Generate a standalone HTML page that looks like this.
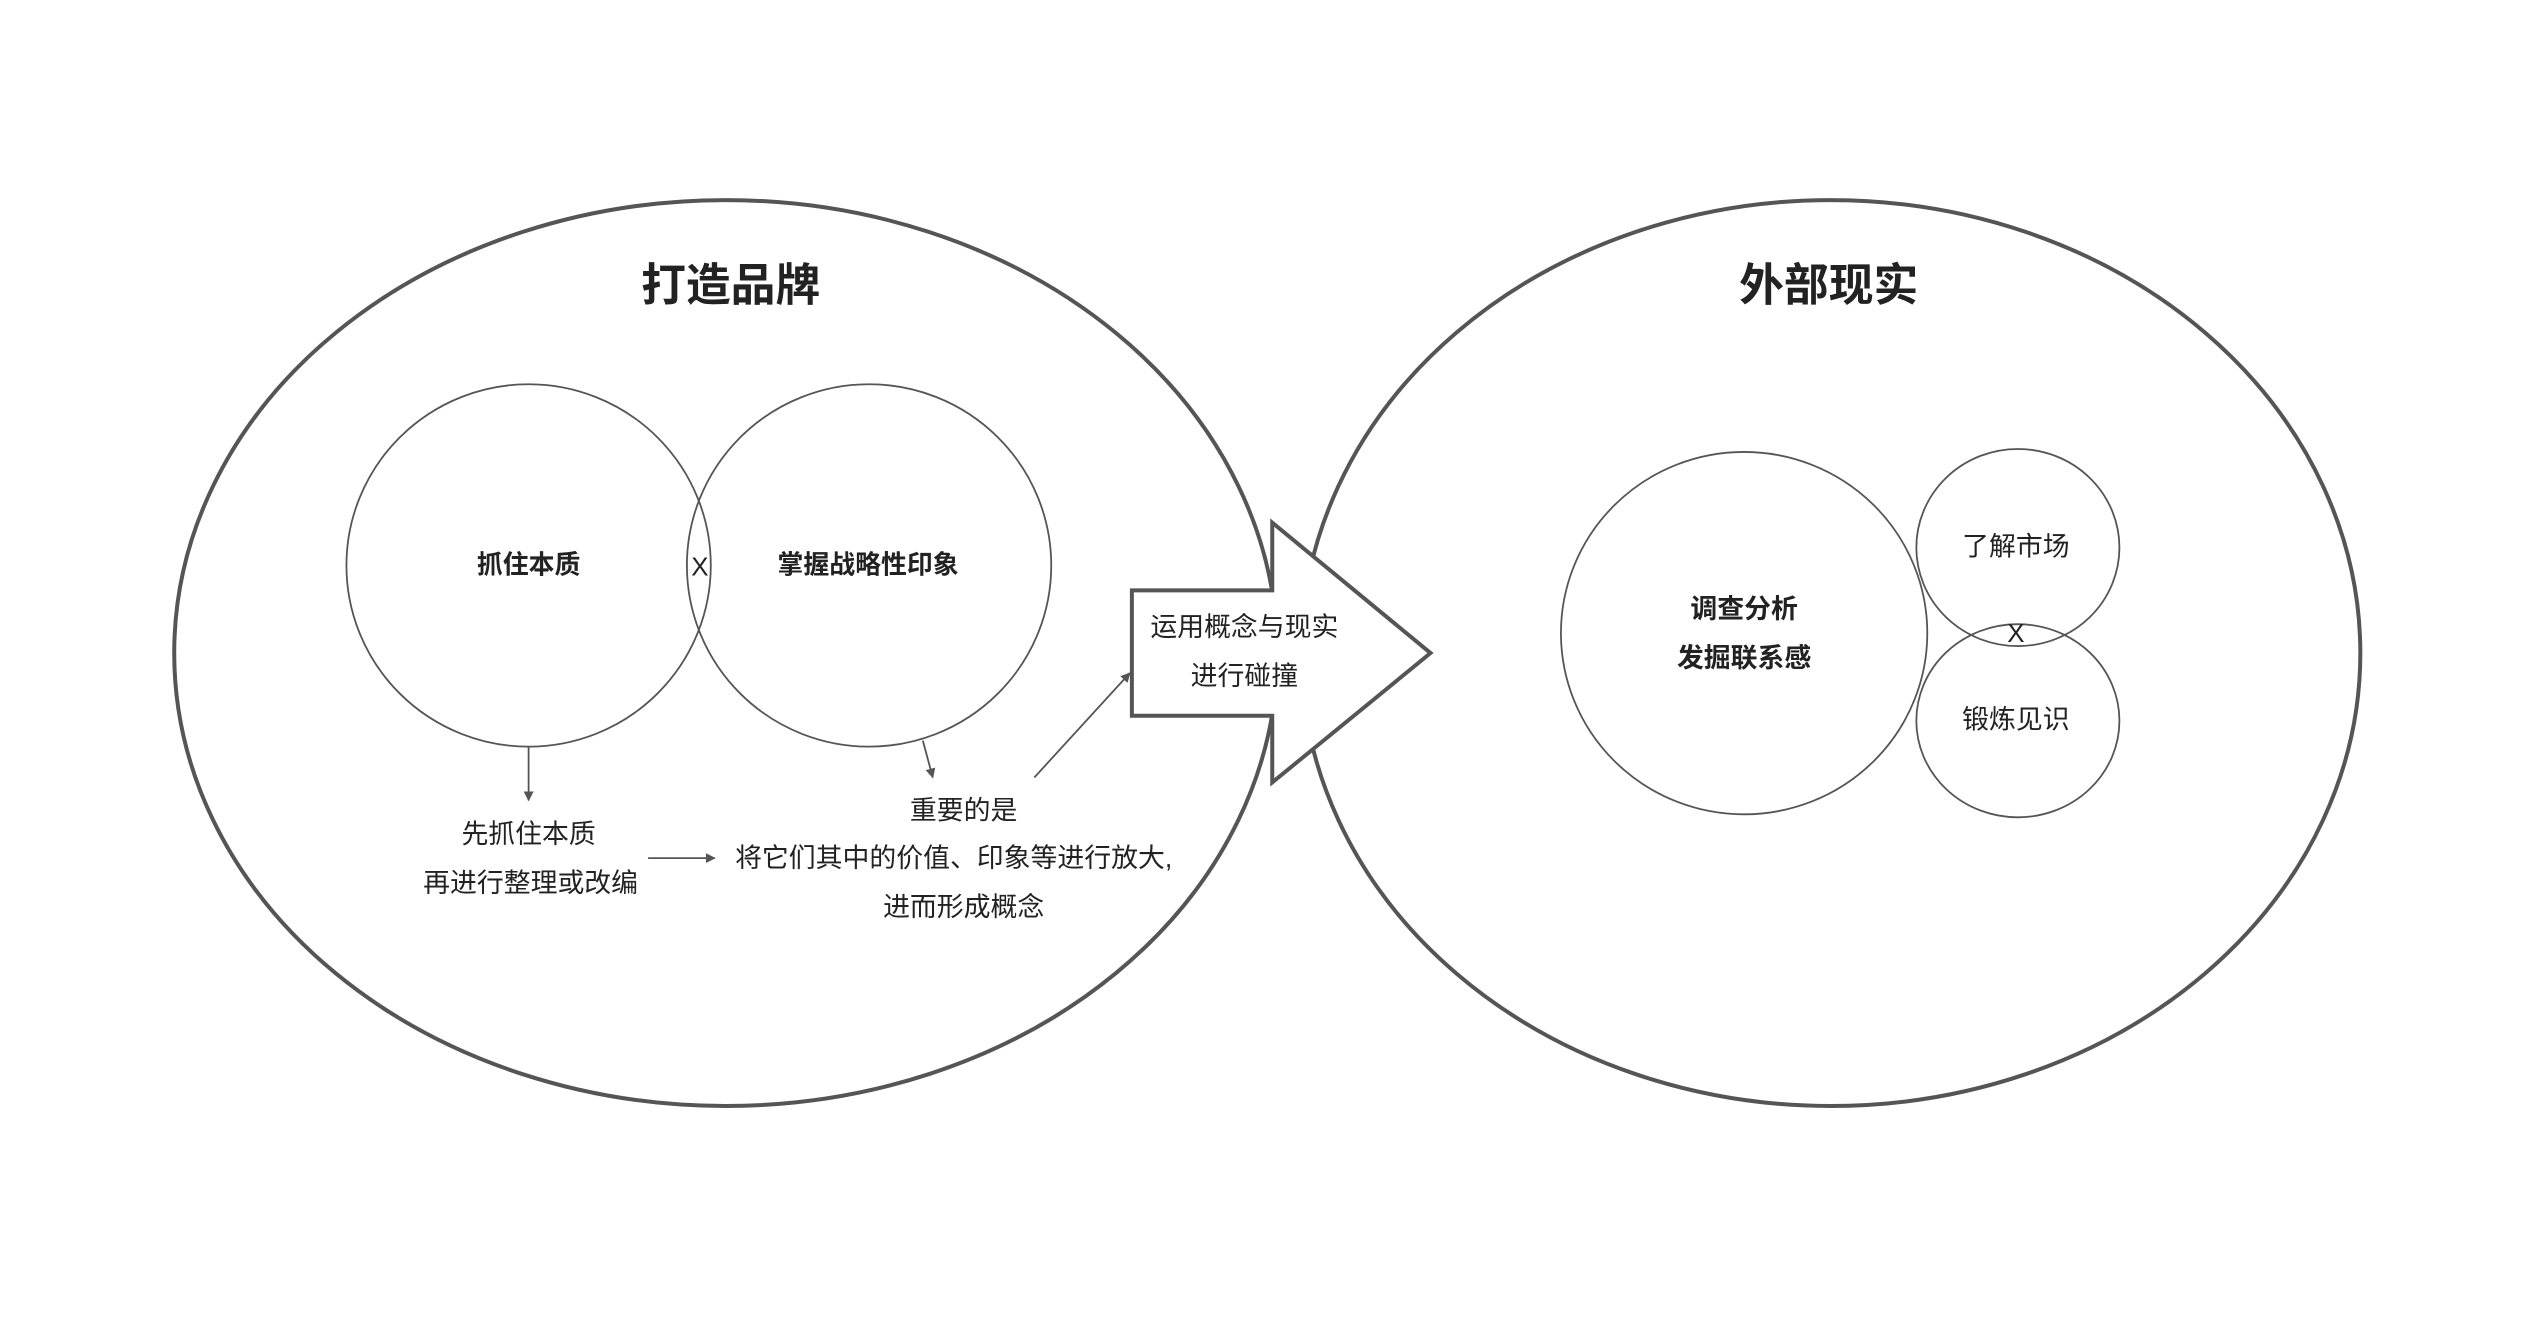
<!DOCTYPE html>
<html><head><meta charset="utf-8"><style>html,body{margin:0;padding:0;background:#fff}</style></head>
<body>
<svg width="2534" height="1328" viewBox="0 0 2534 1328" xmlns="http://www.w3.org/2000/svg" font-family="'Liberation Sans','Noto Sans CJK SC',sans-serif">
<defs><marker id="a" markerWidth="10" markerHeight="10" refX="9" refY="5" orient="auto" markerUnits="userSpaceOnUse"><path d="M0,0 L10,5 L0,10 z" fill="#555"/></marker></defs>
<rect width="2534" height="1328" fill="#fff"/>
<g transform="scale(0.9955)">
<ellipse cx="729" cy="656" rx="554" ry="455" fill="none" stroke="#555" stroke-width="4"/>
<ellipse cx="1839" cy="656" rx="532" ry="455" fill="none" stroke="#555" stroke-width="4"/>
<ellipse cx="531" cy="568" rx="183" ry="182" fill="none" stroke="#555" stroke-width="1.8"/>
<ellipse cx="873" cy="568" rx="183" ry="182" fill="none" stroke="#555" stroke-width="1.8"/>
<ellipse cx="1752" cy="636" rx="184" ry="182" fill="none" stroke="#555" stroke-width="1.8"/>
<ellipse cx="2027" cy="550" rx="102" ry="99" fill="none" stroke="#555" stroke-width="1.8"/>
<ellipse cx="2027" cy="724" rx="102" ry="97" fill="none" stroke="#555" stroke-width="1.8"/>
<path d="M1137,593 L1278,593 L1278,525 L1437,656 L1278,786 L1278,719 L1137,719 Z" fill="#fff" stroke="#555" stroke-width="4"/>
<g stroke="#555" stroke-width="1.8" fill="none" marker-end="url(#a)">
<line x1="531" y1="750" x2="531" y2="804"/>
<line x1="651" y1="862" x2="718" y2="862"/>
<line x1="927" y1="744" x2="937" y2="781"/>
<line x1="1039" y1="781" x2="1135" y2="676"/>
</g>
<g text-anchor="middle" dominant-baseline="central" fill="#222">
<text x="734" y="287" font-size="45" font-weight="bold">打造品牌</text>
<text x="1837" y="287" font-size="45" font-weight="bold">外部现实</text>
<text x="531" y="568" font-size="26" font-weight="bold">抓住本质</text>
<text x="872" y="568" font-size="26" font-weight="bold">掌握战略性印象</text>
<text x="703" y="570" font-size="26">X</text>
<text x="2025" y="637" font-size="26">X</text>
<text x="1250" y="630" font-size="27">运用概念与现实</text>
<text x="1250" y="679" font-size="27">进行碰撞</text>
<text x="531" y="838" font-size="27">先抓住本质</text>
<text x="533" y="887" font-size="27">再进行整理或改编</text>
<text x="968" y="814" font-size="27">重要的是</text>
<text x="958" y="862" font-size="27">将它们其中的价值、印象等进行放大,</text>
<text x="968" y="911" font-size="27">进而形成概念</text>
<text x="1752" y="612" font-size="27" font-weight="bold">调查分析</text>
<text x="1752" y="661" font-size="27" font-weight="bold">发掘联系感</text>
<text x="2025" y="549" font-size="27">了解市场</text>
<text x="2025" y="723" font-size="27">锻炼见识</text>
</g>
</g>
</svg>
</body></html>
